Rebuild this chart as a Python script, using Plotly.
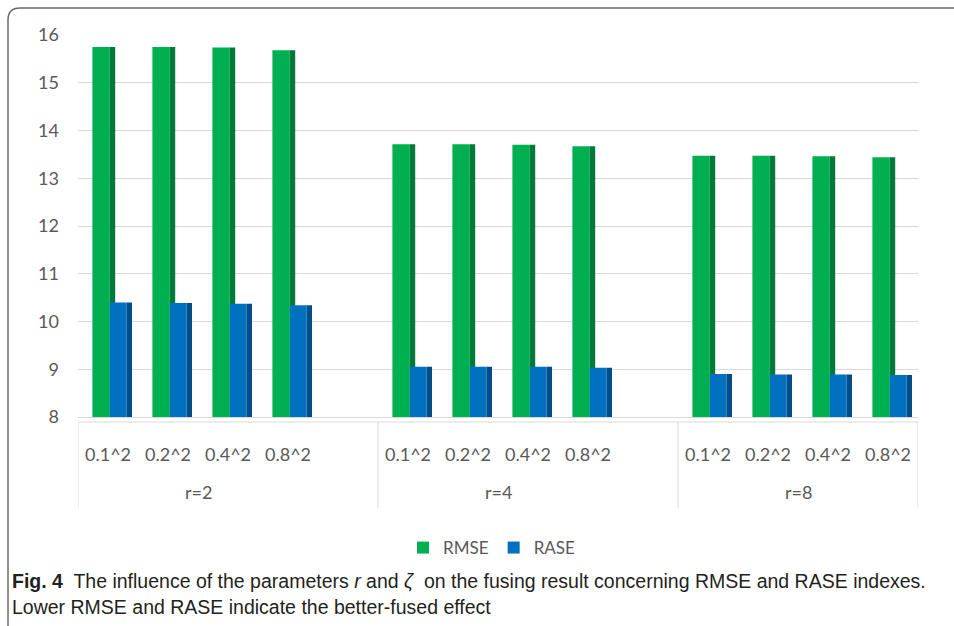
import plotly.graph_objects as go

# ---- data ----
groups = ["r=2", "r=4", "r=8"]
zetas = ["0.1^2", "0.2^2", "0.4^2", "0.8^2"]
rmse_r2 = [15.75, 15.75, 15.74, 15.68]
rmse_r4 = [13.71, 13.71, 13.70, 13.67]
rmse_r8 = [13.47, 13.47, 13.46, 13.44]
rase_r2 = [10.40, 10.39, 10.37, 10.34]
rase_r4 = [9.05, 9.05, 9.05, 9.03]
rase_r8 = [8.90, 8.89, 8.89, 8.88]
y_ticks = [8, 9, 10, 11, 12, 13, 14, 15, 16]

rmse = rmse_r2 + rmse_r4 + rmse_r8
rase = rase_r2 + rase_r4 + rase_r8

# positions: 4 categories per group, one empty slot between groups
slot = len(zetas) + 1
xpos = [g * slot + c for g in range(len(groups)) for c in range(len(zetas))]
xlabels = zetas * len(groups)

W, H = 954, 626
ML, MR, MT, MB = 78, 36, 35, 209
PW, PH = W - ML - MR, H - MT - MB


def px(xp):
    return (xp - ML) / PW


def py(yp):
    return (H - MB - yp) / PH


GREEN, GREEN_D = "#00B050", "#00793A"
BLUE, BLUE_D = "#0070C0", "#004D8A"

fig = go.Figure()
fig.add_trace(go.Bar(x=xpos, y=rmse, name="RMSE", marker_color=GREEN,
                     marker_line_width=0, offset=-0.26, width=0.29, showlegend=True))
fig.add_trace(go.Bar(x=xpos, y=rmse, marker_color=GREEN_D, marker_line_width=0,
                     offset=0.03, width=0.09, showlegend=False, hoverinfo="skip"))
fig.add_trace(go.Bar(x=xpos, y=rase, name="RASE", marker_color=BLUE,
                     marker_line_width=0, offset=0.03, width=0.28, showlegend=True))
fig.add_trace(go.Bar(x=xpos, y=rase, marker_color=BLUE_D, marker_line_width=0,
                     offset=0.31, width=0.09, showlegend=False, hoverinfo="skip"))

label_color = "#595959"
nslots = len(groups) * slot - 1

shapes = []
# frame
x0, y0, x1, y1, r = px(8), py(8), px(970), py(660), 12
shapes.append(dict(type="path", xref="paper", yref="paper",
                   path=(f"M {x1},{y0} L {px(8 + r)},{y0} Q {x0},{y0} {x0},{py(8 + r)} "
                         f"L {x0},{y1}"),
                   line=dict(color="#6b6b6b", width=1.5)))
# category box top line
shapes.append(dict(type="line", xref="x", yref="paper", x0=-0.5, x1=nslots - 0.5,
                   y0=py(422), y1=py(422), line=dict(color="#d9d9d9", width=1)))
# group dividers
for b in [-0.5] + [g * slot - 0.5 for g in range(1, len(groups))] + [nslots - 0.5]:
    shapes.append(dict(type="line", xref="x", yref="paper", x0=b, x1=b,
                       y0=py(422), y1=py(508), line=dict(color="#d9d9d9", width=1)))

annotations = []
for g, name in enumerate(groups):
    annotations.append(dict(x=g * slot + (len(zetas) - 1) / 2, y=py(492), xref="x", yref="paper",
                            yanchor="middle", text=name, showarrow=False,
                            font=dict(family="Lato, Open Sans", size=18, color=label_color)))

cap_font = dict(family="Liberation Sans Narrow, Arial Narrow, Liberation Sans", size=19.5, color="#231F20")
annotations.append(dict(x=px(10), y=py(581), xref="paper", yref="paper", xanchor="left",
                        yanchor="middle", showarrow=False, font=cap_font,
                        text="<b>Fig. 4</b>  The influence of the parameters <i>r</i> and <i>ζ</i>  on the fusing result concerning RMSE and RASE indexes."))
annotations.append(dict(x=px(10), y=py(607), xref="paper", yref="paper", xanchor="left",
                        yanchor="middle", showarrow=False, font=cap_font,
                        text="Lower RMSE and RASE indicate the better-fused effect"))

fig.update_layout(
    width=W, height=H,
    margin=dict(l=ML, r=MR, t=MT, b=MB, autoexpand=False),
    barmode="overlay",
    plot_bgcolor="white", paper_bgcolor="white",
    shapes=shapes, annotations=annotations,
    legend=dict(orientation="h", x=px(492), y=py(548), xanchor="center", yanchor="middle",
                font=dict(family="Lato, Open Sans", size=17, color=label_color),
                tracegroupgap=0),
    xaxis=dict(range=[-0.5, nslots - 0.5], tickmode="array", tickvals=xpos, ticktext=xlabels,
               showgrid=False, zeroline=False, showline=True, linecolor="#d9d9d9",
               ticks="", ticklabelstandoff=21,
               tickfont=dict(family="Lato, Open Sans", size=18, color=label_color)),
    yaxis=dict(range=[8, 16], tickmode="array", tickvals=y_ticks,
               showgrid=True, gridcolor="#d9d9d9", gridwidth=1, zeroline=False,
               showline=False, ticks="", ticklabelstandoff=18,
               tickfont=dict(family="Lato, Open Sans", size=18, color=label_color)),
)

fig.write_html("out.html")
